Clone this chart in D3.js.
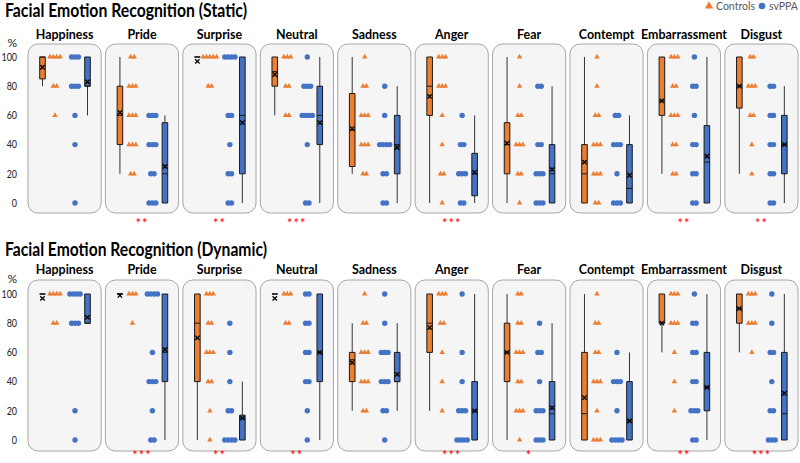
<!DOCTYPE html>
<html><head><meta charset="utf-8">
<script src="https://cdn.jsdelivr.net/npm/d3@7"></script>
<style>
body{margin:0;background:#fff}
svg{display:block;font-family:Lato,"Open Sans","Liberation Sans",sans-serif}
</style>
</head><body>
<svg id="chart" width="800" height="463"></svg>
<script>
// ---------------- DATA ----------------
const categories = ["Happiness","Pride","Surprise","Neutral","Sadness","Anger","Fear","Contempt","Embarrassment","Disgust"];
const yTicks = [0,20,40,60,80,100];
const seriesNames = ["Controls","svPPA"];

// individual scores (%), one entry per participant
const staticControlsPoints = [
  [100,100,100,100,80,80,60],
  [100,100,80,80,80,60,60,60,40,40,40,20,20],
  [100,100,100,100,100,80,80],
  [100,100,100,80,80,60,60],
  [100,80,80,60,60,60,40,40,40,20,20],
  [100,100,100,80,80,80,60,40,20,20,0],
  [100,80,60,60,40,40,40,20,20,0],
  [100,80,60,60,40,40,40,20,20,20,0,0],
  [100,100,100,80,80,60,60,60,40,40,20,20],
  [100,100,80,80,80,60,60,40,20]
];
const staticSvppaPoints = [
  [100,100,100,80,80,80,60,40,0],
  [60,60,60,40,40,40,20,20,0,0,0],
  [100,100,100,100,60,60,40,20,20,0,0],
  [100,80,80,80,60,60,60,60,40,0,0],
  [80,60,40,40,40,40,20,20,0,0],
  [60,40,40,20,20,20,0,0],
  [80,80,40,40,20,20,20,0,0,0],
  [60,60,40,40,40,20,0,0,0],
  [100,80,80,60,40,40,20,20,0,0],
  [80,80,60,60,40,40,20,20,0,0]
];
const dynamicControlsPoints = [
  [100,100,100,100,80,80],
  [100,100,100,80],
  [100,100,100,80,80,60,60,60,40,40,20,0],
  [100,100,100,80,80],
  [100,80,80,60,60,60,40,40,40,20,20],
  [100,100,100,80,80,60,40,20],
  [100,100,80,80,60,60,60,40,40,20,20,20,0],
  [100,80,80,60,60,40,40,40,20,0,0,0],
  [100,100,100,80,80,80,60,40,20],
  [100,100,100,80,80,80,60]
];
const dynamicSvppaPoints = [
  [100,100,100,100,80,80,80,20,0],
  [100,100,100,100,60,40,40,40,20,0,0],
  [80,60,40,20,20,0,0,0,0],
  [100,100,80,80,60,60,40,40,20,0],
  [100,80,60,60,60,40,40,40,20,20,0],
  [100,60,40,20,20,20,0,0,0,0],
  [80,60,60,40,20,20,20,0,0,0],
  [60,40,40,40,20,0,0,0,0],
  [100,80,80,60,60,40,40,20,20,20,0,0],
  [100,80,60,60,40,20,20,0,0,0]
];

// box statistics: [min, q1, median, q3, max, mean]
const staticControlsBox = [
  [80,85,100,100,100,93],[20,40,60,80,100,62],[100,100,100,100,100,97],[60,80,90,100,100,88],
  [20,25,50,75,100,51],[0,60,80,100,100,73],[0,20,40,55,100,41],[0,0,20,40,100,28],
  [20,60,70,100,100,70],[20,65,80,100,100,80]
];
const staticSvppaBox = [
  [60,80,80,100,100,83],[0,0,20,55,60,25],[0,20,60,100,100,55],[0,40,60,80,100,55],
  [0,20,40,60,80,38],[0,5,20,34,60,21],[0,0,20,40,80,23],[0,0,10,40,60,19],
  [0,0,28,53,100,32],[0,20,40,60,80,40]
];
const dynamicControlsBox = [
  [100,100,100,100,100,97],[100,100,100,100,100,99],[0,40,80,100,100,70],[100,100,100,100,100,97],
  [20,40,55,60,80,53],[20,60,80,100,100,77],[0,40,60,80,100,60],[0,0,18,60,100,29],
  [60,80,80,100,100,80],[60,80,90,100,100,90]
];
const dynamicSvppaBox = [
  [80,80,80,100,100,84],[0,40,60,100,100,62],[0,0,15,17,40,15],[0,40,60,100,100,60],
  [20,40,40,60,80,45],[0,0,20,40,100,20],[0,0,18,40,80,22],[0,0,13,40,60,13],
  [0,20,36,60,100,36],[0,0,18,60,100,32]
];

const staticStars  = ["","**","**","***","","***","","","**","**"];
const dynamicStars = ["","***","**","**","","***","*","","**","***"];

// ---------------- LAYOUT ----------------
const ORANGE = "#ED7D31", BLUE = "#4472C4";
const svg = d3.select("#chart");

const rows = [
  {title:"Facial Emotion Recognition (Static)", titleW:242, titleY:17, catY:39, top:44, bottom:213, y0:203, y100:57, starBase:228,
   cp:staticControlsPoints, sp:staticSvppaPoints, cb:staticControlsBox, sb:staticSvppaBox, stars:staticStars},
  {title:"Facial Emotion Recognition (Dynamic)", titleW:262, titleY:256, catY:274, top:280, bottom:451, y0:440, y100:294, starBase:460,
   cp:dynamicControlsPoints, sp:dynamicSvppaPoints, cb:dynamicControlsBox, sb:dynamicSvppaBox, stars:dynamicStars}
];

const x = d3.scaleBand().domain(categories).range([28, 798]).paddingInner(0.055).paddingOuter(0);
const bw = x.bandwidth();
const OFF = {cBox:14.5, cPts:27, sPts:47, sBox:59.5};
const BOXW = 5.6, SPACING = 3.4;

const probe = svg.append("text").attr("font-size",14).attr("font-weight",700).text("Embarrassment");
const kCat = 86 / probe.node().getComputedTextLength();
probe.remove();

function groupPositions(vals, cx){
  const counts = d3.rollup(vals, v=>v.length, d=>d);
  const out = [];
  counts.forEach((n,v)=>{ for(let i=0;i<n;i++) out.push({v, x: cx + (i-(n-1)/2)*SPACING}); });
  return out;
}

function drawBox(g, stats, cx, y, color){
  const [mn,q1,med,q3,mx,mean] = stats;
  g.append("line").attr("x1",cx).attr("x2",cx).attr("y1",y(mn)).attr("y2",y(mx))
    .attr("stroke","#333").attr("stroke-width",1);
  const x0 = cx-BOXW/2, x1 = cx+BOXW/2;
  g.append("path").attr("d",`M${x0},${y(q3)}H${x1}V${y(q1)}H${x0}Z`)
    .attr("fill",color).attr("stroke","#1a1a1a").attr("stroke-width",1);
  g.append("line").attr("x1",x0).attr("x2",x1).attr("y1",y(med)).attr("y2",y(med))
    .attr("stroke","#1a1a1a").attr("stroke-width",1);
  const ym = y(mean), s = 2.2;
  g.append("path").attr("d",`M${cx-s},${ym-s}L${cx+s},${ym+s}M${cx+s},${ym-s}L${cx-s},${ym+s}`)
    .attr("stroke","#000").attr("stroke-width",1.3).attr("fill","none");
}

rows.forEach(r=>{
  const y = d3.scaleLinear().domain([0,100]).range([r.y0, r.y100]);

  svg.append("text").attr("x",5).attr("y",r.titleY).attr("font-size",18).attr("font-weight",700)
    .attr("fill","#000").attr("textLength", r.titleW).attr("lengthAdjust","spacingAndGlyphs").text(r.title);

  const ax = svg.append("g").attr("transform","translate(20,0)")
    .call(d3.axisLeft(y).tickValues(yTicks).tickSize(0).tickPadding(3));
  ax.select(".domain").remove();
  ax.selectAll("text").attr("font-size",10.5).attr("fill","#222").attr("font-family","Lato, sans-serif")
    .each(function(){ const w=this.getComputedTextLength(); d3.select(this).attr("textLength",w*0.85).attr("lengthAdjust","spacingAndGlyphs"); });
  svg.append("text").attr("x",17).attr("y",r.top+3).attr("text-anchor","end").attr("font-size",12)
    .attr("fill","#222").text("%");

  categories.forEach((c,i)=>{
    const left = x(c);
    const g = svg.append("g");
    g.append("rect").attr("x",left).attr("y",r.top).attr("width",bw).attr("height",r.bottom-r.top)
      .attr("rx",10).attr("fill","#F5F5F5").attr("stroke","#A6A6A6").attr("stroke-width",1);

    const lab = svg.append("text").attr("x",left+bw/2).attr("y",r.catY).attr("text-anchor","middle")
      .attr("font-size",14).attr("font-weight",700).attr("fill","#000").text(c);
    lab.attr("textLength", lab.node().getComputedTextLength()*kCat).attr("lengthAdjust","spacingAndGlyphs");

    drawBox(g, r.cb[i], left+OFF.cBox, y, ORANGE);
    drawBox(g, r.sb[i], left+OFF.sBox, y, BLUE);

    g.selectAll(null).data(groupPositions(r.cp[i], left+OFF.cPts)).join("path")
      .attr("transform",d=>`translate(${d.x},${y(d.v)})`)
      .attr("d", d3.symbol(d3.symbolTriangle).size(13)).attr("fill",ORANGE);
    g.selectAll(null).data(groupPositions(r.sp[i], left+OFF.sPts)).join("circle")
      .attr("cx",d=>d.x).attr("cy",d=>y(d.v)).attr("r",2.7).attr("fill",BLUE);

    if(r.stars[i]){
      svg.append("text").attr("x",left+bw/2).attr("y",r.starBase).attr("text-anchor","middle")
        .attr("font-size",13).attr("letter-spacing",1).attr("fill","#FF0000").text(r.stars[i]);
    }
  });
});

const lg = svg.append("g").attr("font-size",10.5).attr("fill","#595959");
lg.append("path").attr("transform","translate(709,6)").attr("d",d3.symbol(d3.symbolTriangle).size(30)).attr("fill",ORANGE);
lg.append("text").attr("x",716).attr("y",10).text(seriesNames[0]);
lg.append("circle").attr("cx",762).attr("cy",6).attr("r",3.3).attr("fill",BLUE);
lg.append("text").attr("x",769).attr("y",10).text(seriesNames[1]);
</script>
</body></html>
